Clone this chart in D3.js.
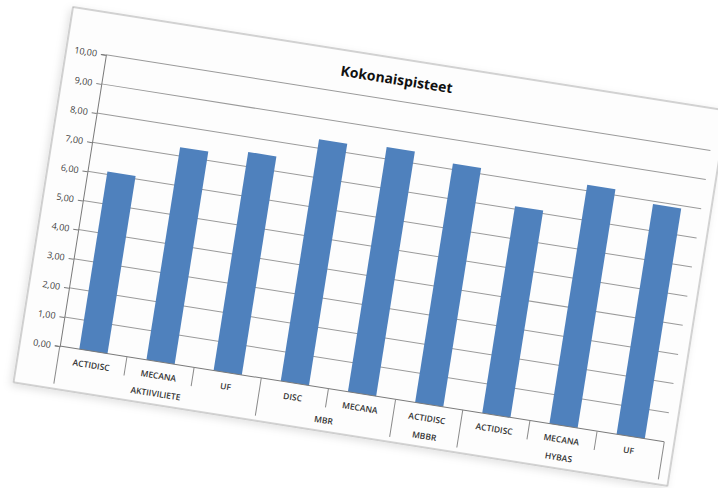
<!DOCTYPE html>
<html>
<head>
<meta charset="utf-8">
<script src="https://cdn.jsdelivr.net/npm/d3@7"></script>
<style>
  body { margin: 0; background: #fff; }
  svg { display: block; }
</style>
</head>
<body>
<script>
const w = 718
const h = 488

// chart frame, before the photo tilt
const frameW = 662
const frameH = 380
const tilt = 9
const margin = {top: 42, right: 10, bottom: 43, left: 40}

const categories = ['ACTIDISC', 'MECANA', 'UF', 'DISC', 'MECANA', 'ACTIDISC', 'ACTIDISC', 'MECANA', 'UF']
const groups = ['AKTIIVILIETE', 'MBR', 'MBBR', 'HYBAS']
const groupSizes = [3, 2, 1, 3]
const scores = [6.1, 7.3, 7.5, 8.3, 8.4, 8.2, 7.1, 8.2, 7.9]
const yTicks = [0, 1, 2, 3, 4, 5, 6, 7, 8, 9, 10]

const fiLocale = d3.formatLocale({decimal: ',', thousands: ' ', grouping: [3], currency: ['', ' €']})
const fmt = fiLocale.format('.2f')

const font = '"Open Sans", "Noto Sans", sans-serif'

const svg = d3.select('body')
    .append('svg')
    .attr('width', w)
    .attr('height', h)

svg.append('defs')
    .append('filter')
    .attr('id', 'shade')
    .attr('x', '-5%').attr('y', '-5%')
    .attr('width', '110%').attr('height', '110%')
    .append('feDropShadow')
    .attr('dx', -2).attr('dy', 3)
    .attr('stdDeviation', 4)
    .attr('flood-color', '#000')
    .attr('flood-opacity', 0.12)

const chart = svg.append('g')
    .attr('transform', `translate(73,7) rotate(${tilt})`)

chart.append('rect')
    .attr('width', frameW)
    .attr('height', frameH)
    .attr('fill', '#fdfdfd')
    .attr('stroke', '#a8a8a8')
    .attr('stroke-width', 1)
    .attr('filter', 'url(#shade)')

const plotBottom = frameH - margin.bottom
const xScale = d3.scaleBand()
    .domain(d3.range(categories.length))
    .range([margin.left, frameW - margin.right])
    .padding(0)

const yScale = d3.scaleLinear()
    .domain([0, 10])
    .range([plotBottom, margin.top])

// gridlines
chart.append('g')
    .selectAll('line')
    .data(yTicks.slice(1))
    .enter()
    .append('line')
    .attr('x1', margin.left)
    .attr('x2', frameW - margin.right)
    .attr('y1', d => yScale(d))
    .attr('y2', d => yScale(d))
    .attr('stroke', '#9a9a9a')
    .attr('stroke-width', 1)

// y axis
const yAxis = chart.append('g')
    .attr('transform', `translate(${margin.left},0)`)
    .call(d3.axisLeft(yScale).tickValues(yTicks).tickFormat(fmt).tickSize(5).tickPadding(4))

yAxis.select('.domain').attr('stroke', '#7a7a7a')
yAxis.selectAll('.tick line').attr('stroke', '#7a7a7a')
yAxis.selectAll('.tick text')
    .attr('fill', '#3a3a3a')
    .style('font-family', font)
    .style('font-size', '9px')

// bars
const barW = xScale.bandwidth() * 0.42
chart.append('g')
    .selectAll('rect')
    .data(scores)
    .enter()
    .append('rect')
    .attr('x', (d, i) => xScale(i) + (xScale.bandwidth() - barW) / 2)
    .attr('y', d => yScale(d))
    .attr('width', barW)
    .attr('height', d => plotBottom - yScale(d))
    .attr('fill', '#4f81bd')

// category axis, two levels
const cat = chart.append('g')

cat.append('line')
    .attr('x1', margin.left)
    .attr('x2', frameW - margin.right)
    .attr('y1', plotBottom)
    .attr('y2', plotBottom)
    .attr('stroke', '#7a7a7a')

const groupEdges = [0]
groupSizes.forEach((n, i) => groupEdges.push(groupEdges[i] + n))

const innerEdges = d3.range(1, categories.length).filter(i => !groupEdges.includes(i))

cat.selectAll('line.inner')
    .data(innerEdges)
    .enter()
    .append('line')
    .attr('class', 'inner')
    .attr('x1', d => xScale(d))
    .attr('x2', d => xScale(d))
    .attr('y1', plotBottom)
    .attr('y2', plotBottom + 19)
    .attr('stroke', '#8a8a8a')

const edgeX = function (i) {
    return i >= categories.length ? xScale.range()[1] : xScale(i)
}

cat.selectAll('line.outer')
    .data(groupEdges)
    .enter()
    .append('line')
    .attr('class', 'outer')
    .attr('x1', d => edgeX(d))
    .attr('x2', d => edgeX(d))
    .attr('y1', plotBottom)
    .attr('y2', plotBottom + 38)
    .attr('stroke', '#8a8a8a')

cat.selectAll('text.cat')
    .data(categories)
    .enter()
    .append('text')
    .attr('class', 'cat')
    .attr('x', (d, i) => xScale(i) + xScale.bandwidth() / 2)
    .attr('y', plotBottom + 17)
    .attr('text-anchor', 'middle')
    .attr('fill', '#333')
    .style('font-family', font)
    .style('font-size', '8.5px')
    .style('font-weight', 600)
    .text(d => d)

cat.selectAll('text.grp')
    .data(groups)
    .enter()
    .append('text')
    .attr('class', 'grp')
    .attr('x', (d, i) => (edgeX(groupEdges[i]) + edgeX(groupEdges[i + 1])) / 2)
    .attr('y', plotBottom + 35)
    .attr('text-anchor', 'middle')
    .attr('fill', '#333')
    .style('font-family', font)
    .style('font-size', '8.5px')
    .style('font-weight', 600)
    .text(d => d)

chart.append('text')
    .attr('x', frameW / 2)
    .attr('y', 26)
    .attr('text-anchor', 'middle')
    .attr('fill', '#111')
    .style('font-family', font)
    .style('font-size', '14px')
    .style('font-weight', 'bold')
    .text('Kokonaispisteet')
</script>
</body>
</html>
